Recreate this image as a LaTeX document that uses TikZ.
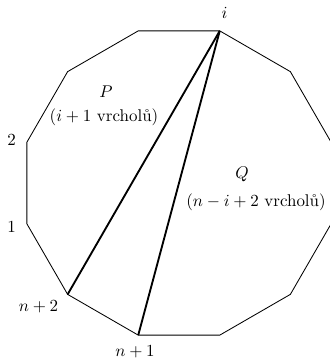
\documentclass[tikz,border=0pt]{standalone}
\usepackage{fontspec}
\begin{document}
\begin{tikzpicture}[x=0.59pt,y=-0.59pt,
  edgeline/.style={line width=0.5pt},
  diagline/.style={line width=1.1pt},
  lbl/.style={inner sep=0pt,anchor=center}]
\useasboundingbox (0,0) rectangle (330,359);
\foreach \k in {0,...,11} {
  \pgfmathsetmacro\ang{75+30*\k}
  \coordinate (v\k) at ({179+157.5*cos(\ang)},{183-157.5*sin(\ang)});
}
\draw[edgeline,line join=round] (v0) -- (v1) -- (v2) -- (v3) -- (v4) -- (v5) -- (v6)
  -- (v7) -- (v8) -- (v9) -- (v10) -- (v11) -- cycle;
\draw[diagline] (v0) -- (v5);
\draw[diagline] (v0) -- (v6);
\node[lbl] (li) at (224.5,13) {$i$};
\node[lbl] (l2) at (11.5,140) {$2$};
\node[lbl] (l1) at (11.5,227) {$1$};
\node[lbl] (lnb) at (38.5,307) {$n+2$};
\node[lbl] (lna) at (135,352) {$n+1$};
\node[lbl] (lP) at (106,92) {$P$};
\node[lbl] (lPt) at (104,117) {$(i+1$ vrcholů$)$};
\node[lbl] (lQ) at (242,174) {$Q$};
\node[lbl] (lQt) at (256,202) {$(n-i+2$ vrcholů$)$};
\end{tikzpicture}
\end{document}
